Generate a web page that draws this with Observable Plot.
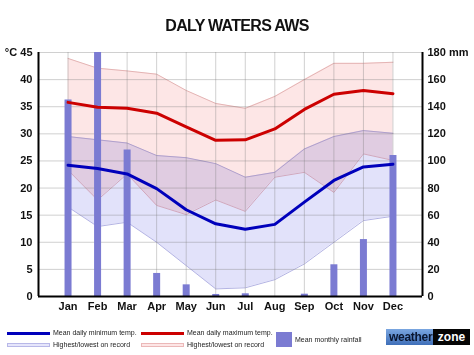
<!DOCTYPE html>
<html><head><meta charset="utf-8">
<script src="https://cdn.jsdelivr.net/npm/d3@7"></script>
<script src="https://cdn.jsdelivr.net/npm/@observablehq/plot@0.6"></script>
<style>
body{margin:0;background:#fff;font-family:"Liberation Sans",Arial,sans-serif;}
#wrap{position:relative;width:474px;height:355px;overflow:hidden;background:#fff}
#title{position:absolute;left:0;top:17px;width:474px;text-align:center;font-weight:bold;font-size:16px;letter-spacing:-0.7px;color:#111}
#chart{position:absolute;left:0;top:40px}
.lt{position:absolute;font-size:7px;color:#222;white-space:nowrap;line-height:8px}
.sw{position:absolute}
#logo{position:absolute;left:386px;top:329px;width:84px;height:16px;background:linear-gradient(#7aa6e0,#3f6fb8);font-weight:bold;font-size:12px;line-height:16px;overflow:hidden}
#logo .w{position:absolute;left:3px;top:0;color:#0a1630;letter-spacing:-0.3px}
#logo .z{position:absolute;right:0;top:0;width:37px;height:16px;background:#050505;color:#fff;text-align:center}
</style></head><body>
<div id="wrap">
<div id="title">DALY WATERS AWS</div>
<div id="chart"></div>
<div class="sw" style="left:7px;top:332px;width:43px;height:3px;background:#0000bb"></div>
<div class="lt" style="left:53px;top:329px">Mean daily minimum temp.</div>
<div class="sw" style="left:7px;top:343px;width:41px;height:2px;background:#e6e6fb;border:1px solid #b8b8e8"></div>
<div class="lt" style="left:53px;top:341px">Highest/lowest on record</div>
<div class="sw" style="left:141px;top:332px;width:43px;height:3px;background:#cc0000"></div>
<div class="lt" style="left:187px;top:329px">Mean daily maximum temp.</div>
<div class="sw" style="left:141px;top:343px;width:41px;height:2px;background:#fde6e6;border:1px solid #ebb8b8"></div>
<div class="lt" style="left:187px;top:341px">Highest/lowest on record</div>
<div class="sw" style="left:276px;top:332px;width:16px;height:15px;background:#7b7bd2"></div>
<div class="lt" style="left:295px;top:336px">Mean monthly rainfall</div>
<div id="logo"><span class="w">weather</span><span class="z">zone</span></div>
</div>
<script>
const months = ["Jan","Feb","Mar","Apr","May","Jun","Jul","Aug","Sep","Oct","Nov","Dec"];
const meanMin = [24.2,23.6,22.6,19.9,16.0,13.4,12.4,13.3,17.4,21.4,23.9,24.4];
const meanMax = [35.8,34.9,34.7,33.8,31.3,28.8,28.9,30.9,34.5,37.3,38.0,37.4];
const highMax = [43.9,42.1,41.6,41.0,38.0,35.6,34.7,36.9,40.0,43.0,43.0,43.2];
const lowMax  = [23.3,17.8,22.6,16.8,15.1,17.8,15.7,22.0,22.9,19.2,26.3,25.1];
const highMin = [29.5,28.9,28.3,26.0,25.6,24.5,22.0,22.9,27.2,29.5,30.6,30.1];
const lowMin  = [16.5,12.9,13.7,10.0,5.7,1.4,1.6,3.1,6.0,10.0,14.0,14.8];
const rainfall = [145,190,108,17,8.6,1.5,2,0,1.7,23.4,42,104];
const tempTicks = [0,5,10,15,20,25,30,35,40,45];

const data = months.map((m,i)=>({i, m, meanMin:meanMin[i], meanMax:meanMax[i], highMax:highMax[i], lowMax:lowMax[i], highMin:highMin[i], lowMin:lowMin[i], rain:rainfall[i]}));

const chart = Plot.plot({
  width:474, height:280,
  marginTop:12, marginBottom:24, marginLeft:38, marginRight:52,
  style:{fontFamily:"Liberation Sans, Arial, sans-serif", fontSize:"11px", fontWeight:"bold", color:"#111", background:"transparent"},
  x:{domain:[-1,12]},
  y:{domain:[0,45]},
  marks:[
    Plot.areaY(data,{x:"i", y1:"lowMin", y2:"highMin", fill:"#e2e2fa"}),
    Plot.areaY(data,{x:"i", y1:"lowMax", y2:"highMax", fill:"#fde6e6", mixBlendMode:"multiply"}),
    Plot.lineY(data,{x:"i", y:"lowMin", stroke:"#b4b4e4", strokeWidth:1}),
    Plot.lineY(data,{x:"i", y:"highMin", stroke:"#b0a0cc", strokeWidth:1}),
    Plot.lineY(data,{x:"i", y:"lowMax", stroke:"#d2a8bc", strokeWidth:1}),
    Plot.lineY(data,{x:"i", y:"highMax", stroke:"#e4b4b4", strokeWidth:1}),
    Plot.gridY({ticks:tempTicks, stroke:"#777", strokeOpacity:0.35}),
    Plot.gridX({ticks:d3.range(12), stroke:"#777", strokeOpacity:0.35}),
    Plot.ruleX(data,{x:"i", y1:0, y2:d=>d.rain/4, stroke:"#7b7bd2", strokeWidth:7, clip:true}),
    Plot.lineY(data,{x:"i", y:"meanMax", stroke:"#cc0000", strokeWidth:3}),
    Plot.lineY(data,{x:"i", y:"meanMin", stroke:"#0000bb", strokeWidth:3}),
    Plot.ruleX([-1,12],{stroke:"#000", strokeWidth:2}),
    Plot.ruleY([0],{stroke:"#000", strokeWidth:2}),
    Plot.axisY({anchor:"left", ticks:tempTicks, tickSize:0, tickPadding:6, label:null, tickFormat:d=>d===45?"°C 45":String(d)}),
    Plot.axisY({anchor:"right", ticks:tempTicks, tickSize:0, tickPadding:5, label:null, tickFormat:d=>d===45?"180 mm":String(d*4)}),
    Plot.axisX({ticks:d3.range(12), tickSize:0, tickPadding:6, label:null, tickFormat:i=>months[i]})
  ]
});
document.getElementById("chart").appendChild(chart);
</script>
</body></html>
